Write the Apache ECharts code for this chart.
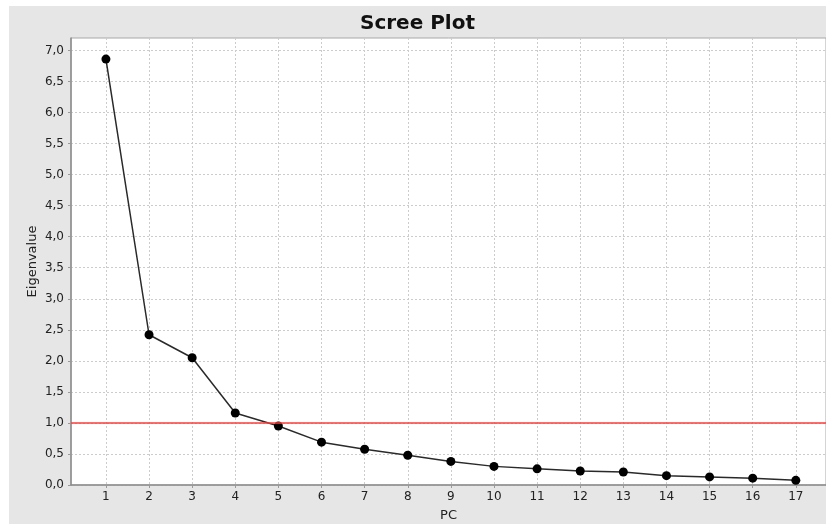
<!DOCTYPE html>
<html>
<head>
<meta charset="utf-8">
<script src="https://cdn.jsdelivr.net/npm/echarts@6/dist/echarts.min.js"></script>
<style>
  html, body { margin: 0; padding: 0; background: #ffffff; }
  #chart {
    position: absolute; left: 9px; top: 6px;
    width: 817px; height: 518px;
    background: #e6e6e6;
  }
</style>
</head>
<body>
<div id="chart"></div>
<script>
// Principal components and their eigenvalues
const pcs = [1, 2, 3, 4, 5, 6, 7, 8, 9, 10, 11, 12, 13, 14, 15, 16, 17];
const eigenvalues = [6.86, 2.42, 2.05, 1.16, 0.95, 0.69, 0.575, 0.48, 0.38, 0.30, 0.26, 0.225, 0.21, 0.15, 0.13, 0.11, 0.075];
// Kaiser criterion cut-off
const threshold = 1.0;
// Y tick values
const yTicks = [0, 0.5, 1, 1.5, 2, 2.5, 3, 3.5, 4, 4.5, 5, 5.5, 6, 6.5, 7];

const font = 'DejaVu Sans';
const chart = echarts.init(document.getElementById('chart'));

chart.setOption({
  backgroundColor: 'transparent',
  animation: false,
  title: {
    text: 'Scree Plot',
    left: 'center',
    top: 3,
    textStyle: { fontFamily: font, fontWeight: 'bold', fontSize: 20, color: '#111' }
  },
  grid: {
    left: 62, top: 32, right: 0, bottom: 39,
    outerBoundsMode: 'none',
    containLabel: false,
    show: true, backgroundColor: '#ffffff', borderColor: '#a8a8a8', borderWidth: 1
  },
  xAxis: {
    type: 'value',
    min: 0.19, max: 17.7,
    name: 'PC',
    nameLocation: 'middle',
    nameGap: 24,
    nameMoveOverlap: false,
    nameTextStyle: { fontFamily: font, fontSize: 13, color: '#222' },
    axisLine: { show: true, onZero: false, lineStyle: { color: '#8c8c8c', width: 1.5 } },
    axisTick: { show: true, length: 3, customValues: pcs, lineStyle: { color: '#999' } },
    axisLabel: { customValues: pcs, margin: 6, fontFamily: font, fontSize: 12, color: '#222' },
    splitLine: { show: true, lineStyle: { color: '#cccccc', type: [2, 2], width: 1 } }
  },
  yAxis: {
    type: 'value',
    min: 0, max: 7.2,
    name: 'Eigenvalue',
    nameLocation: 'middle',
    nameGap: 32,
    nameMoveOverlap: false,
    nameTextStyle: { fontFamily: font, fontSize: 13, color: '#222' },
    axisLine: { show: true, lineStyle: { color: '#8c8c8c', width: 1.5 } },
    axisTick: { show: true, length: 3, customValues: yTicks, lineStyle: { color: '#999' } },
    axisLabel: {
      customValues: yTicks,
      margin: 7,
      fontFamily: font, fontSize: 12, color: '#222',
      formatter: v => v.toFixed(1).replace('.', ',')
    },
    splitLine: { show: true, lineStyle: { color: '#cccccc', type: [2, 2], width: 1 } }
  },
  series: [{
    type: 'line',
    data: pcs.map((p, i) => [p, eigenvalues[i]]),
    symbol: 'circle',
    symbolSize: 9,
    itemStyle: { color: '#000' },
    lineStyle: { color: '#2a2a2a', width: 1.5 },
    markLine: {
      silent: true,
      symbol: 'none',
      label: { show: false },
      lineStyle: { color: '#ff3b3b', width: 1.5, type: 'solid' },
      data: [{ yAxis: threshold }]
    }
  }]
});
</script>
</body>
</html>
